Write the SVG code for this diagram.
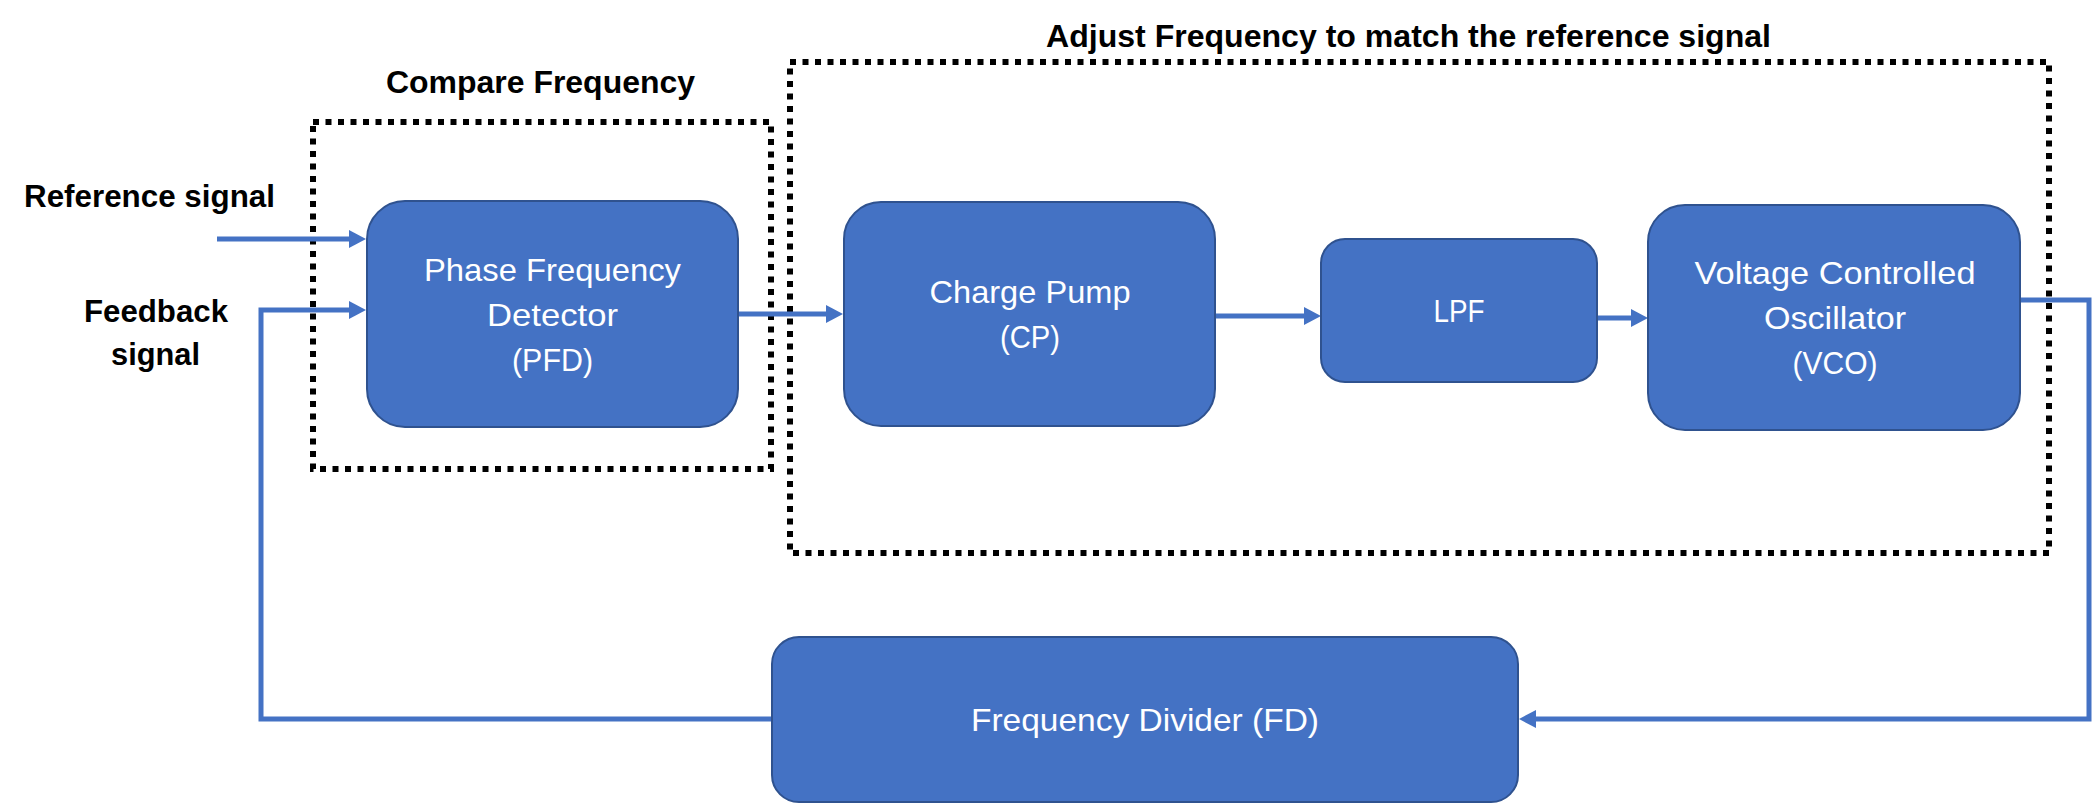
<svg xmlns="http://www.w3.org/2000/svg" width="2093" height="804" viewBox="0 0 2093 804">
<style>
.node{fill:#4472C4;stroke:#2F528F;stroke-width:2}
.nt{font-family:"Liberation Sans",Arial,sans-serif;font-size:32px;fill:#FFFFFF;text-anchor:middle}
.lbl{font-family:"Liberation Sans",Arial,sans-serif;font-size:31px;font-weight:bold;fill:#000000}
.dot{fill:none;stroke:#000000;stroke-width:6;stroke-dasharray:6 6.5}
.conn{fill:none;stroke:#4472C4;stroke-width:5}
</style>
<defs>
<marker id="arr" markerUnits="userSpaceOnUse" markerWidth="18" markerHeight="18" viewBox="0 0 18 18" refX="0" refY="9" orient="auto">
<path d="M0,0 L17,9 L0,18 z" fill="#4472C4"/>
</marker>
</defs>
<rect width="2093" height="804" fill="#FFFFFF"/>
<g id="groups">
<rect class="dot" x="313" y="122" width="458" height="347"/>
<rect class="dot" x="790" y="62" width="1259" height="491"/>
<text class="lbl" x="386" y="93" textLength="309" lengthAdjust="spacingAndGlyphs">Compare Frequency</text>
<text class="lbl" x="1046" y="47" textLength="725" lengthAdjust="spacingAndGlyphs">Adjust Frequency to match the reference signal</text>
</g>
<g id="labels">
<text class="lbl" x="24" y="207" textLength="251" lengthAdjust="spacingAndGlyphs">Reference signal</text>
<text class="lbl" x="84" y="322" textLength="144" lengthAdjust="spacingAndGlyphs">Feedback</text>
<text class="lbl" x="111" y="365" textLength="89" lengthAdjust="spacingAndGlyphs">signal</text>
</g>
<g id="connectors">
<path class="conn" d="M217,239 H349" marker-end="url(#arr)"/>
<path class="conn" d="M772,719 H261 V310 H349" marker-end="url(#arr)"/>
<path class="conn" d="M738,314 H826" marker-end="url(#arr)"/>
<path class="conn" d="M1215,316 H1304" marker-end="url(#arr)"/>
<path class="conn" d="M1597,318 H1631" marker-end="url(#arr)"/>
<path class="conn" d="M2020,300 H2089 V719 H1536" marker-end="url(#arr)"/>
</g>
<g id="pfd">
<rect class="node" x="367" y="201" width="371" height="226" rx="38" ry="38"/>
<text class="nt" x="552.5" y="281" textLength="257" lengthAdjust="spacingAndGlyphs">Phase Frequency</text>
<text class="nt" x="552.5" y="326" textLength="131" lengthAdjust="spacingAndGlyphs">Detector</text>
<text class="nt" x="552.5" y="371" textLength="81" lengthAdjust="spacingAndGlyphs">(PFD)</text>
</g>
<g id="cp">
<rect class="node" x="844" y="202" width="371" height="224" rx="37" ry="37"/>
<text class="nt" x="1030" y="303" textLength="201" lengthAdjust="spacingAndGlyphs">Charge Pump</text>
<text class="nt" x="1030" y="348" textLength="60" lengthAdjust="spacingAndGlyphs">(CP)</text>
</g>
<g id="lpf">
<rect class="node" x="1321" y="239" width="276" height="143" rx="24" ry="24"/>
<text class="nt" x="1459" y="322" textLength="51" lengthAdjust="spacingAndGlyphs">LPF</text>
</g>
<g id="vco">
<rect class="node" x="1648" y="205" width="372" height="225" rx="37" ry="37"/>
<text class="nt" x="1835" y="284" textLength="281" lengthAdjust="spacingAndGlyphs">Voltage Controlled</text>
<text class="nt" x="1835" y="329" textLength="142" lengthAdjust="spacingAndGlyphs">Oscillator</text>
<text class="nt" x="1835" y="374" textLength="85" lengthAdjust="spacingAndGlyphs">(VCO)</text>
</g>
<g id="fd">
<rect class="node" x="772" y="637" width="746" height="165" rx="27" ry="27"/>
<text class="nt" x="1145" y="731" textLength="348" lengthAdjust="spacingAndGlyphs">Frequency Divider (FD)</text>
</g>
</svg>
